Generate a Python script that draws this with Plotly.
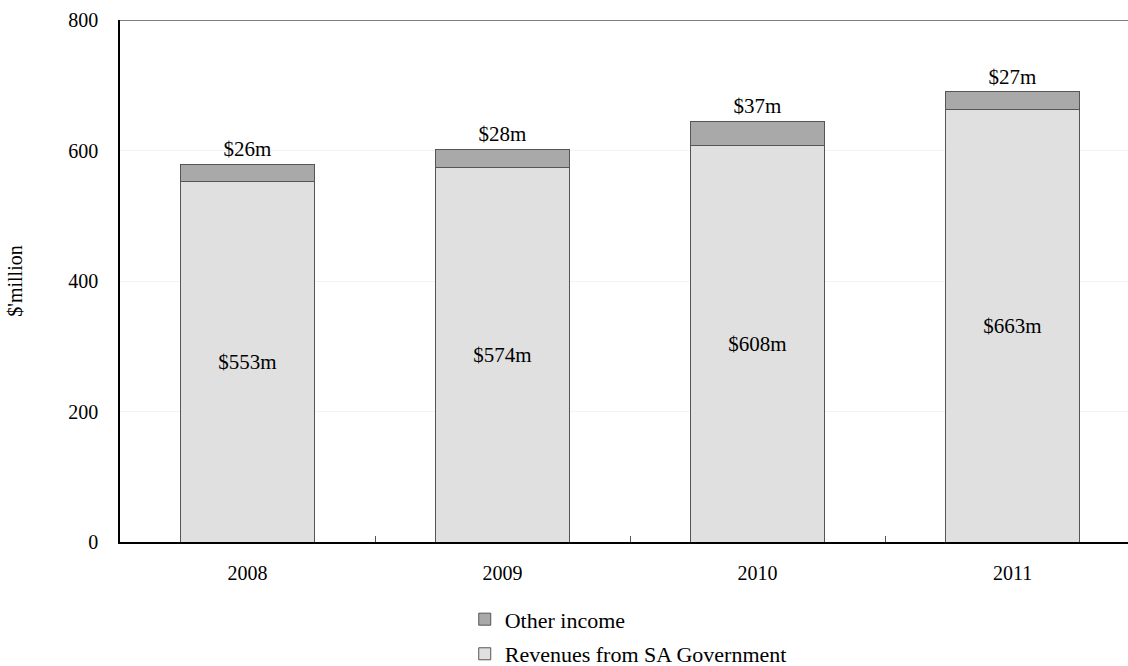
import plotly.graph_objects as go

years = ["2008", "2009", "2010", "2011"]
sa_gov = [553, 574, 608, 663]
other = [26, 28, 37, 27]
sa_labels = ["$553m", "$574m", "$608m", "$663m"]
other_labels = ["$26m", "$28m", "$37m", "$27m"]
y_ticks = [0, 200, 400, 600, 800]

FONT = "Liberation Serif"

fig = go.Figure()
fig.add_trace(go.Bar(
    x=years, y=sa_gov, name="Revenues from SA Government", legendgroup="a",
    legendrank=2,
    marker=dict(color="#e0e0e0", line=dict(color="#555555", width=1)),
    width=0.523, text=sa_labels, textposition="inside", insidetextanchor="middle",
    textfont=dict(family=FONT, size=21, color="black"), hoverinfo="skip",
))
fig.add_trace(go.Bar(
    x=years, y=other, name="Other income", legendgroup="b", legendrank=1,
    marker=dict(color="#a9a9a9", line=dict(color="#555555", width=1)),
    width=0.523, text=other_labels, textposition="outside",
    textfont=dict(family=FONT, size=21, color="black"), hoverinfo="skip",
    cliponaxis=False,
))

fig.update_layout(
    width=1128, height=666,
    margin=dict(l=120, r=0, t=20, b=124, autoexpand=False),
    barmode="stack",
    plot_bgcolor="white", paper_bgcolor="white",
    font=dict(family=FONT, size=20, color="black"),
    showlegend=True,
    legend=dict(
        orientation="v", x=0.342, xanchor="left", y=-0.108, yanchor="top",
        font=dict(family=FONT, size=22), traceorder="grouped",
        tracegroupgap=3, bgcolor="rgba(0,0,0,0)",
    ),
    xaxis=dict(
        type="category", range=[-0.5, 3.5 - 12 / 255],
        showline=True, linecolor="black", linewidth=1.5,
        ticks="inside", tickson="boundaries", ticklen=6, tickcolor="#555555",
        showgrid=False, ticklabelstandoff=12,
        tickfont=dict(family=FONT, size=20),
    ),
    yaxis=dict(
        range=[0, 800], tickvals=y_ticks,
        showline=True, linecolor="black", linewidth=1.5,
        showgrid=True, gridcolor="#f3f3f3", gridwidth=1,
        zeroline=False, ticks="", ticklabelstandoff=16,
        tickfont=dict(family=FONT, size=20),
        title=dict(text="$'million", standoff=40, font=dict(family=FONT, size=20)),
    ),
    shapes=[dict(type="line", xref="paper", yref="y", x0=0, x1=1, y0=800, y1=800,
                 line=dict(color="#555555", width=1.5))],
)

fig.write_html("out.html")
